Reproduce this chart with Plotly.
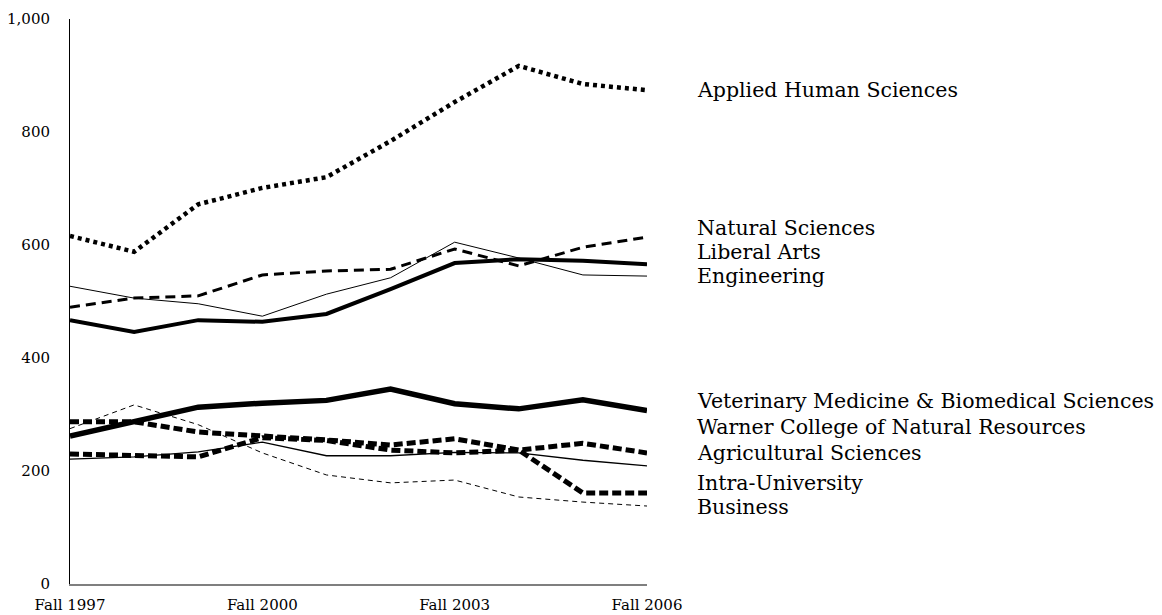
import plotly.graph_objects as go

years = ["Fall 1997", "Fall 1998", "Fall 1999", "Fall 2000", "Fall 2001",
         "Fall 2002", "Fall 2003", "Fall 2004", "Fall 2005", "Fall 2006"]
tick_years = ["Fall 1997", "Fall 2000", "Fall 2003", "Fall 2006"]

applied_human = [616, 588, 672, 701, 720, 784, 853, 917, 885, 874]
natural_sci = [490, 506, 510, 547, 554, 557, 593, 563, 596, 614]
liberal_arts = [527, 506, 496, 474, 513, 542, 605, 577, 547, 545]
engineering = [467, 446, 467, 464, 478, 522, 568, 575, 572, 566]
vet_med = [262, 287, 313, 320, 325, 345, 319, 310, 326, 307]
warner = [287, 287, 269, 263, 255, 246, 257, 237, 249, 232]
agricultural = [221, 225, 234, 251, 227, 227, 233, 232, 219, 209]
intra_univ = [230, 227, 225, 259, 254, 237, 232, 237, 161, 161]
business = [275, 317, 282, 232, 193, 179, 184, 154, 145, 138]

series = [
    ("Applied Human Sciences", applied_human, dict(width=4.5, dash="4px,4px")),
    ("Natural Sciences", natural_sci, dict(width=3, dash="10px,6px")),
    ("Liberal Arts", liberal_arts, dict(width=1)),
    ("Engineering", engineering, dict(width=4)),
    ("Veterinary Medicine & Biomedical Sciences", vet_med, dict(width=5.5)),
    ("Warner College of Natural Resources", warner, dict(width=5, dash="9px,4px")),
    ("Agricultural Sciences", agricultural, dict(width=1.3)),
    ("Intra-University", intra_univ, dict(width=5, dash="9px,4px")),
    ("Business", business, dict(width=1, dash="5px,4px")),
]

# label vertical positions (layout, in axis units)
label_pos = [874, 630, 588, 545, 324, 278, 232, 179, 136]

FONT = "DejaVu Serif"

fig = go.Figure()
for name, vals, style in series:
    fig.add_trace(go.Scatter(x=years, y=vals, mode="lines", name=name,
                             line=dict(color="black", **style)))

for (name, _, _), ly in zip(series, label_pos):
    fig.add_annotation(x=1.083, xref="paper", y=ly, yref="y", text=name,
                       showarrow=False, xanchor="left", yanchor="middle",
                       font=dict(family=FONT, size=20.5, color="black"))

# page body has an 8px default margin, so the figure is sized to fit the window
fig.update_layout(
    width=1154, height=607,
    margin=dict(l=62, r=515, t=11, b=31, autoexpand=False),
    paper_bgcolor="white", plot_bgcolor="white",
    showlegend=False,
    font=dict(family=FONT, size=15, color="black"),
)
fig.update_xaxes(type="category", range=[0, 9], tickmode="array",
                 tickvals=tick_years, ticktext=tick_years,
                 showgrid=False, zeroline=False, showline=True,
                 linecolor="#7f7f7f", linewidth=1.5, ticks="",
                 automargin=False, ticklabelstandoff=6,
                 tickfont=dict(family=FONT, size=15))
fig.update_yaxes(range=[0, 1000], tickvals=[0, 200, 400, 600, 800, 1000],
                 tickformat=",", showgrid=False, zeroline=False,
                 showline=True, linecolor="black", linewidth=1, ticks="",
                 automargin=False, ticklabelstandoff=16,
                 tickfont=dict(family=FONT, size=15))

fig.write_html("out.html")
